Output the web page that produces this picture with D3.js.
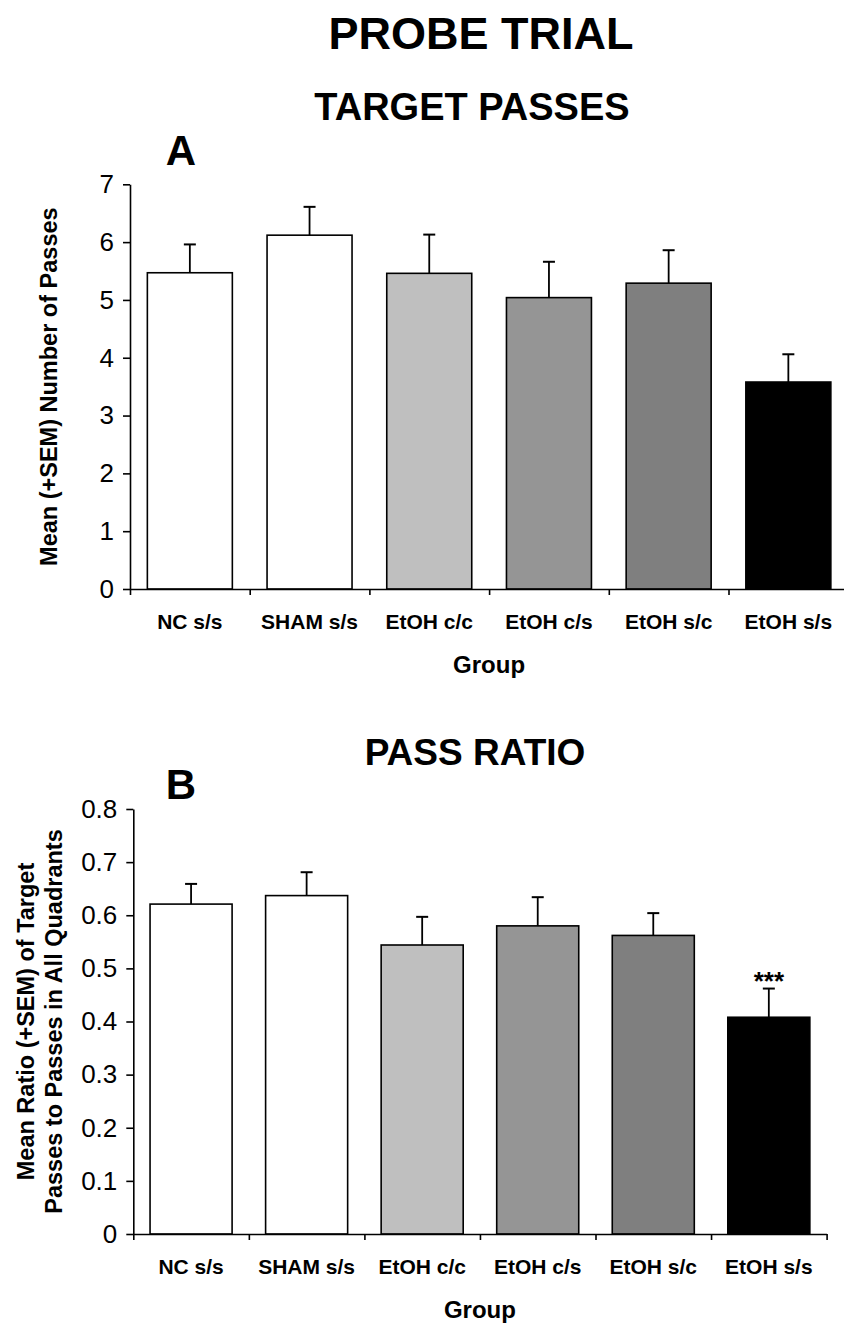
<!DOCTYPE html>
<html>
<head>
<meta charset="utf-8">
<script src="https://cdn.jsdelivr.net/npm/d3@7"></script>
<style>
  body { margin: 0; background: #fff; }
  svg { display: block; font-family: "Liberation Sans", Arial, sans-serif; }
  .axis path, .axis line { stroke: #000; stroke-width: 1.6px; }
  .axis text { fill: #000; }
</style>
</head>
<body>
<div id="chart"></div>
<script>
// groups on the x axis (same in both panels)
var groups = ["NC s/s", "SHAM s/s", "EtOH c/c", "EtOH c/s", "EtOH s/c", "EtOH s/s"];

// panel A: target passes
var passMean = [5.47, 6.12, 5.46, 5.04, 5.29, 3.58];
var passSem  = [0.49, 0.49, 0.67, 0.62, 0.57, 0.48];
var passTicks = [0, 1, 2, 3, 4, 5, 6, 7];

// panel B: pass ratio
var ratioMean = [0.621, 0.637, 0.544, 0.580, 0.562, 0.408];
var ratioSem  = [0.038, 0.044, 0.053, 0.054, 0.042, 0.054];
var ratioTicks = [0, 0.1, 0.2, 0.3, 0.4, 0.5, 0.6, 0.7, 0.8];
var ratioSig = ["", "", "", "", "", "***"];

var fills = ["#ffffff", "#ffffff", "#bfbfbf", "#959595", "#7f7f7f", "#000000"];

var W = 844, H = 1325;

var svg = d3.select("#chart").append("svg")
    .attr("width", W)
    .attr("height", H);

svg.append("rect").attr("width", W).attr("height", H).attr("fill", "#fff");

function label(x, y, txt, size) {
    return svg.append("text")
        .attr("x", x)
        .attr("y", y)
        .attr("text-anchor", "middle")
        .attr("font-size", size)
        .attr("font-weight", "bold")
        .text(txt);
}

function panel(cfg) {
    var x = d3.scaleBand()
        .domain(groups)
        .range([cfg.left, cfg.right])
        .paddingInner(0.29)
        .paddingOuter(0.145);

    var y = d3.scaleLinear()
        .domain([0, cfg.max])
        .range([cfg.bottom, cfg.top]);

    // category boundaries for the x ticks
    var xb = d3.scaleLinear()
        .domain([0, groups.length])
        .range([cfg.left, cfg.right]);

    var g = svg.append("g");

    g.selectAll(".bar")
        .data(groups)
        .enter().append("rect")
        .attr("class", "bar")
        .attr("x", function(d) { return x(d); })
        .attr("y", function(d, i) { return y(cfg.mean[i]); })
        .attr("width", x.bandwidth())
        .attr("height", function(d, i) { return y(0) - y(cfg.mean[i]); })
        .attr("fill", function(d, i) { return fills[i]; })
        .attr("stroke", "#000")
        .attr("stroke-width", 1.6);

    var cx = function(d) { return x(d) + x.bandwidth() / 2; };

    g.selectAll(".err")
        .data(groups)
        .enter().append("line")
        .attr("class", "err")
        .attr("x1", cx).attr("x2", cx)
        .attr("y1", function(d, i) { return y(cfg.mean[i]); })
        .attr("y2", function(d, i) { return y(cfg.mean[i] + cfg.sem[i]); })
        .attr("stroke", "#000")
        .attr("stroke-width", 1.8);

    g.selectAll(".cap")
        .data(groups)
        .enter().append("line")
        .attr("class", "cap")
        .attr("x1", function(d) { return cx(d) - 6; })
        .attr("x2", function(d) { return cx(d) + 6; })
        .attr("y1", function(d, i) { return y(cfg.mean[i] + cfg.sem[i]); })
        .attr("y2", function(d, i) { return y(cfg.mean[i] + cfg.sem[i]); })
        .attr("stroke", "#000")
        .attr("stroke-width", 2);

    if (cfg.sig) {
        g.selectAll(".sig")
            .data(groups)
            .enter().append("text")
            .attr("class", "sig")
            .attr("x", cx)
            .attr("y", function(d, i) { return y(cfg.mean[i] + cfg.sem[i]) + 1; })
            .attr("text-anchor", "middle")
            .attr("font-size", 26)
            .attr("font-weight", "bold")
            .text(function(d, i) { return cfg.sig[i]; });
    }

    // y axis
    var yAxis = d3.axisLeft(y)
        .tickValues(cfg.ticks)
        .tickFormat(cfg.fmt)
        .tickSize(7)
        .tickSizeOuter(0)
        .tickPadding(9);

    var ya = svg.append("g")
        .attr("class", "axis")
        .attr("transform", "translate(" + cfg.left + ",0)")
        .call(yAxis);
    ya.attr("font-size", null).attr("font-family", null);
    ya.selectAll("text").attr("font-size", 26);

    // x axis: ticks at group boundaries, pointing down
    var xAxis = d3.axisBottom(xb)
        .tickValues(d3.range(groups.length + 1))
        .tickFormat("")
        .tickSize(6)
        .tickSizeOuter(0);

    svg.append("g")
        .attr("class", "axis")
        .attr("transform", "translate(0," + cfg.bottom + ")")
        .call(xAxis);

    // group names
    g.selectAll(".cat")
        .data(groups)
        .enter().append("text")
        .attr("class", "cat")
        .attr("x", cx)
        .attr("y", cfg.bottom + 40)
        .attr("text-anchor", "middle")
        .attr("font-size", 21)
        .attr("font-weight", "bold")
        .text(function(d) { return d; });

    label((cfg.left + cfg.right) / 2, cfg.bottom + 84, "Group", 24);

    // y title, one or two lines
    var mid = (cfg.top + cfg.bottom) / 2;
    cfg.ytitle.forEach(function(line, i) {
        svg.append("text")
            .attr("transform", "translate(" + cfg.ytitleX[i] + "," + mid + ") rotate(-90)")
            .attr("text-anchor", "middle")
            .attr("font-size", 23.5)
            .attr("font-weight", "bold")
            .text(line);
    });
}

label(481, 49, "PROBE TRIAL", 45);
label(472, 120, "TARGET PASSES", 38);
label(181, 165, "A", 42);

panel({
    left: 130, right: 848.2, top: 184.3, bottom: 589,
    max: 7, mean: passMean, sem: passSem, ticks: passTicks,
    fmt: d3.format("d"),
    ytitle: ["Mean (+SEM) Number of Passes"], ytitleX: [57]
});

label(475, 765, "PASS RATIO", 37);
label(181, 799, "B", 42);

panel({
    left: 133.3, right: 826.6, top: 809, bottom: 1234,
    max: 0.8, mean: ratioMean, sem: ratioSem, ticks: ratioTicks,
    fmt: function(d) { return d === 0 ? "0" : d3.format(".1f")(d); },
    sig: ratioSig,
    ytitle: ["Mean Ratio (+SEM) of Target", "Passes to Passes in All Quadrants"],
    ytitleX: [34, 62]
});
</script>
</body>
</html>
